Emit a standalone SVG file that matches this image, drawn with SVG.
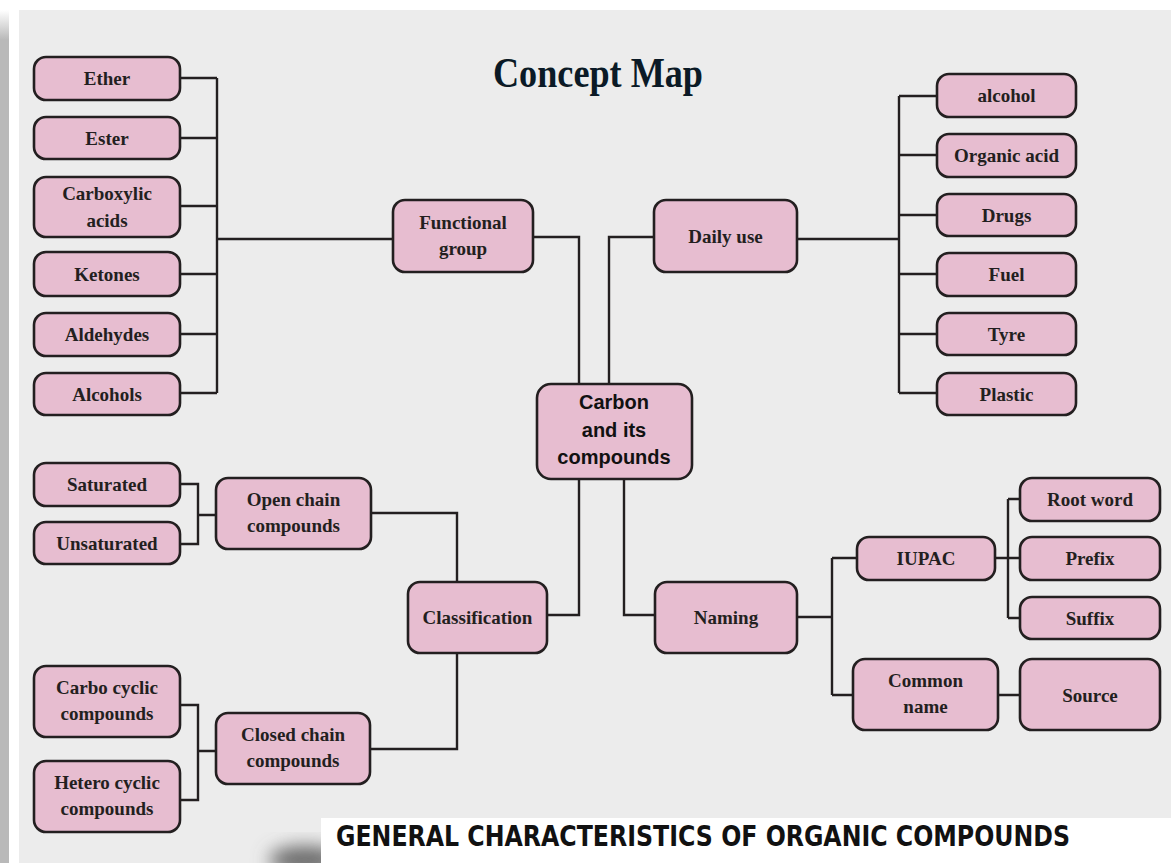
<svg xmlns="http://www.w3.org/2000/svg" width="1173" height="863" viewBox="0 0 1173 863">
<style>
.n{fill:#e7bdd0;stroke:#231f20;stroke-width:2.6}
.t{font-family:"Liberation Serif","Times New Roman",serif;font-weight:bold;font-size:19px;fill:#231f20;text-anchor:middle}
.s{font-family:"Liberation Sans",Arial,sans-serif;font-weight:bold;font-size:20px;fill:#111;text-anchor:middle}
.c{fill:none;stroke:#231f20;stroke-width:2.4}
</style>
<defs>
<linearGradient id="lg" x1="0" y1="0" x2="0" y2="1">
<stop offset="0" stop-color="#ffffff"/>
<stop offset="0.035" stop-color="#b9b9b9"/>
<stop offset="1" stop-color="#b9b9b9"/>
</linearGradient>
<filter id="bl" x="-50%" y="-50%" width="200%" height="200%"><feGaussianBlur stdDeviation="9"/></filter>
</defs>
<rect x="0" y="0" width="1173" height="863" fill="#ffffff"/>
<rect x="0" y="10" width="9" height="853" fill="url(#lg)"/>
<rect x="19" y="10" width="1152" height="853" fill="#ececec"/>
<ellipse cx="305" cy="860" rx="36" ry="14" fill="#6a6a6a" filter="url(#bl)"/>
<rect x="321" y="818" width="852" height="45" fill="#ffffff"/>
<text x="598" y="87" font-family="Liberation Serif,'Times New Roman',serif" font-weight="bold" font-size="42" fill="#0b1a26" text-anchor="middle" textLength="210" lengthAdjust="spacingAndGlyphs">Concept Map</text>
<text x="336" y="846" font-family="'DejaVu Sans Condensed','DejaVu Sans',Verdana,sans-serif" font-weight="bold" font-size="28" fill="#111" textLength="734" lengthAdjust="spacingAndGlyphs">GENERAL CHARACTERISTICS OF ORGANIC COMPOUNDS</text>

<g id="connectors">
<path class="c" d="M180 78H217M180 138H217M180 206H217M180 274H217M180 334H217M180 393H217M217 78V393M217 239H393"/>
<path class="c" d="M533 237H579V384M654 237H609V384"/>
<path class="c" d="M797 239H899M899 96V393M899 96H937M899 155H937M899 215H937M899 274H937M899 334H937M899 393H937"/>
<path class="c" d="M579 479V615H547M624 479V615H655"/>
<path class="c" d="M371 513H457V582M370 749H457V653"/>
<path class="c" d="M180 484H198V544H180M198 515H216M180 705H198V800H180M198 751H216"/>
<path class="c" d="M797 617H832M832 558V695M832 558H857M832 695H853"/>
<path class="c" d="M995 558H1020M1008 499V618M1008 499H1020M1008 618H1020M998 695H1020"/>
</g>

<g id="ether"><rect class="n" x="34" y="57" width="146" height="43" rx="12"/><text class="t" x="107" y="85">Ether</text></g>
<g id="ester"><rect class="n" x="34" y="117" width="146" height="42" rx="12"/><text class="t" x="107" y="144.5">Ester</text></g>
<g id="carboxylic"><rect class="n" x="34" y="177" width="146" height="60" rx="12"/><text class="t" x="107" y="200">Carboxylic</text><text class="t" x="107" y="227">acids</text></g>
<g id="ketones"><rect class="n" x="34" y="252" width="146" height="44" rx="12"/><text class="t" x="107" y="280.5">Ketones</text></g>
<g id="aldehydes"><rect class="n" x="34" y="313" width="146" height="43" rx="12"/><text class="t" x="107" y="341">Aldehydes</text></g>
<g id="alcohols"><rect class="n" x="34" y="373" width="146" height="42" rx="12"/><text class="t" x="107" y="400.5">Alcohols</text></g>

<g id="functional-group"><rect class="n" x="393" y="200" width="140" height="72" rx="12"/><text class="t" x="463" y="229">Functional</text><text class="t" x="463" y="255">group</text></g>
<g id="daily-use"><rect class="n" x="654" y="200" width="143" height="72" rx="12"/><text class="t" x="725.5" y="242.5">Daily use</text></g>

<g id="alcohol"><rect class="n" x="937" y="74" width="139" height="43" rx="12"/><text class="t" x="1006.5" y="102">alcohol</text></g>
<g id="organic-acid"><rect class="n" x="937" y="134" width="139" height="43" rx="12"/><text class="t" x="1006.5" y="162">Organic acid</text></g>
<g id="drugs"><rect class="n" x="937" y="194" width="139" height="42" rx="12"/><text class="t" x="1006.5" y="221.5">Drugs</text></g>
<g id="fuel"><rect class="n" x="937" y="253" width="139" height="43" rx="12"/><text class="t" x="1006.5" y="281">Fuel</text></g>
<g id="tyre"><rect class="n" x="937" y="313" width="139" height="42" rx="12"/><text class="t" x="1006.5" y="340.5">Tyre</text></g>
<g id="plastic"><rect class="n" x="937" y="373" width="139" height="42" rx="12"/><text class="t" x="1006.5" y="400.5">Plastic</text></g>

<g id="carbon"><rect class="n" x="537" y="384" width="155" height="95" rx="14"/><text class="s" x="614" y="409">Carbon</text><text class="s" x="614" y="437">and its</text><text class="s" x="614" y="464">compounds</text></g>

<g id="saturated"><rect class="n" x="34" y="463" width="146" height="43" rx="12"/><text class="t" x="107" y="491">Saturated</text></g>
<g id="unsaturated"><rect class="n" x="34" y="522" width="146" height="42" rx="12"/><text class="t" x="107" y="549.5">Unsaturated</text></g>
<g id="open-chain"><rect class="n" x="216" y="478" width="155" height="71" rx="12"/><text class="t" x="293.5" y="506">Open chain</text><text class="t" x="293.5" y="532">compounds</text></g>
<g id="classification"><rect class="n" x="408" y="582" width="139" height="71" rx="12"/><text class="t" x="477.5" y="624">Classification</text></g>
<g id="naming"><rect class="n" x="655" y="582" width="142" height="71" rx="12"/><text class="t" x="726" y="624">Naming</text></g>

<g id="carbo-cyclic"><rect class="n" x="34" y="666" width="146" height="71" rx="12"/><text class="t" x="107" y="694">Carbo cyclic</text><text class="t" x="107" y="720">compounds</text></g>
<g id="hetero-cyclic"><rect class="n" x="34" y="761" width="146" height="71" rx="12"/><text class="t" x="107" y="789">Hetero cyclic</text><text class="t" x="107" y="815">compounds</text></g>
<g id="closed-chain"><rect class="n" x="216" y="713" width="154" height="71" rx="12"/><text class="t" x="293" y="741">Closed chain</text><text class="t" x="293" y="767">compounds</text></g>

<g id="iupac"><rect class="n" x="857" y="537" width="138" height="43" rx="12"/><text class="t" x="926" y="565">IUPAC</text></g>
<g id="root-word"><rect class="n" x="1020" y="478" width="140" height="43" rx="12"/><text class="t" x="1090" y="506">Root word</text></g>
<g id="prefix"><rect class="n" x="1020" y="537" width="140" height="43" rx="12"/><text class="t" x="1090" y="565">Prefix</text></g>
<g id="suffix"><rect class="n" x="1020" y="597" width="140" height="42" rx="12"/><text class="t" x="1090" y="624.5">Suffix</text></g>
<g id="common-name"><rect class="n" x="853" y="659" width="145" height="71" rx="12"/><text class="t" x="925.5" y="687">Common</text><text class="t" x="925.5" y="713">name</text></g>
<g id="source"><rect class="n" x="1020" y="659" width="140" height="71" rx="12"/><text class="t" x="1090" y="701.5">Source</text></g>
</svg>
